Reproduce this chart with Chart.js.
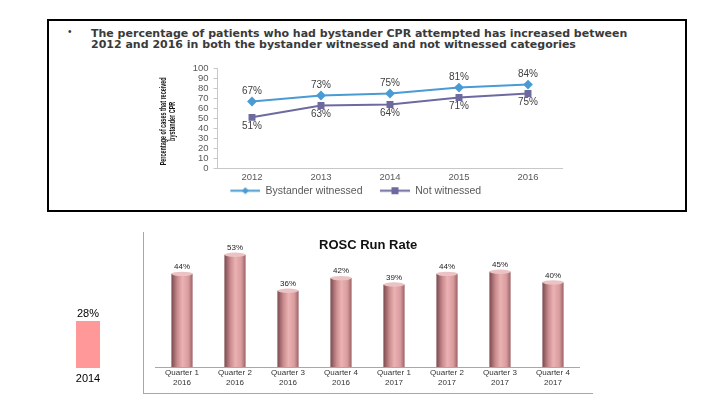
<!DOCTYPE html>
<html>
<head>
<meta charset="utf-8">
<script src="https://cdn.jsdelivr.net/npm/chart.js@4.4.1/dist/chart.umd.min.js"></script>
<style>
  body { margin: 0; width: 720px; height: 405px; background: #fff; position: relative; overflow: hidden; font-family: "Liberation Sans", Arial, sans-serif; }
  #box { position: absolute; left: 47px; top: 19px; width: 636px; height: 189px; border: 2px solid #000; }
  .headline { position: absolute; left: 91px; font-family: "DejaVu Sans", sans-serif; font-weight: 700; font-size: 11px; line-height: 11px; color: #3a3a3a; white-space: nowrap; }
  #bullet { position: absolute; left: 68px; top: 26px; font-size: 10px; color: #333; }
  #roscFrame { position: absolute; left: 143px; top: 232px; width: 449px; height: 161px; border-left: 1px solid #a8a8a8; border-bottom: 1px solid #a8a8a8; }
  #roscTitle { position: absolute; left: 319px; top: 237px; font-weight: 700; font-size: 13px; color: #111; white-space: nowrap; }
  canvas { position: absolute; }
</style>
</head>
<body>
<div id="box"></div>
<div id="bullet">&#8226;</div>
<div class="headline" style="top:27.5px">The percentage of patients who had bystander CPR attempted has increased between</div>
<div class="headline" style="top:38.5px">2012 and 2016 in both the bystander witnessed and not witnessed categories</div>
<canvas id="cprChart" width="436" height="148" style="left:134px;top:58px"></canvas>

<div id="roscFrame"></div>
<canvas id="roscChart" width="449" height="163" style="left:143px;top:232px"></canvas>
<div id="roscTitle">ROSC Run Rate</div>

<canvas id="smallChart" width="48" height="84" style="left:64px;top:305px"></canvas>

<script>
const years = ["2012", "2013", "2014", "2015", "2016"];
const witnessed = [67, 73, 75, 81, 84];
const notWitnessed = [51, 63, 64, 71, 75];
const cprAxisTitle = ["Percentage of cases that received", "bystander CPR"];

const quarters = [
  ["Quarter 1", "2016"], ["Quarter 2", "2016"], ["Quarter 3", "2016"], ["Quarter 4", "2016"],
  ["Quarter 1", "2017"], ["Quarter 2", "2017"], ["Quarter 3", "2017"], ["Quarter 4", "2017"]
];
const roscRate = [44, 53, 36, 42, 39, 44, 45, 40];

const smallYears = ["2014"];
const smallRate = [28];

const BLUE = "#4a9bd4";
const PURPLE = "#6c6a9e";

// draws "NN%" next to every point / bar of the chart
const valueLabels = {
  id: "valueLabels",
  afterDatasetsDraw(chart, args, opts) {
    const ctx = chart.ctx;
    chart.data.datasets.forEach((ds, i) => {
      const meta = chart.getDatasetMeta(i);
      const shift = opts.offsets ? opts.offsets[i] : -8;
      ctx.save();
      ctx.font = opts.font;
      ctx.fillStyle = opts.color;
      ctx.textAlign = "center";
      ctx.textBaseline = "middle";
      meta.data.forEach((el, j) => ctx.fillText(ds.data[j] + "%", el.x, el.y + shift));
      ctx.restore();
    });
  }
};

// squeezed, rotated two-line y title (the original uses a very narrow font)
const narrowYTitle = {
  id: "narrowYTitle",
  afterDraw(chart, args, opts) {
    const ctx = chart.ctx;
    const area = chart.chartArea;
    const cy = (area.top + area.bottom) / 2 + opts.shiftY;
    ctx.save();
    ctx.font = opts.font;
    ctx.fillStyle = opts.color;
    ctx.textAlign = "center";
    ctx.textBaseline = "middle";
    const longest = Math.max(...opts.lines.map(l => ctx.measureText(l).width));
    const squeeze = Math.min(1, opts.maxLength / longest);
    opts.lines.forEach((line, i) => {
      ctx.save();
      ctx.translate(opts.x + i * opts.lineGap, cy);
      ctx.rotate(-Math.PI / 2);
      ctx.scale(squeeze, 1);
      ctx.fillText(line, 0, 0);
      ctx.restore();
    });
    ctx.restore();
  }
};

// light top cap for the cylinder bars
const cylinderCaps = {
  id: "cylinderCaps",
  afterDatasetsDraw(chart) {
    const ctx = chart.ctx;
    chart.getDatasetMeta(0).data.forEach(el => {
      ctx.save();
      ctx.beginPath();
      ctx.ellipse(el.x, el.y, el.width / 2, 2.2, 0, 0, Math.PI * 2);
      ctx.fillStyle = "#ecc3c4";
      ctx.fill();
      ctx.restore();
    });
  }
};

// legend swatch: blank lead-in (acts as gap between items), then line with marker
const SWATCH_W = 45;
const SWATCH_LEAD = 15;
function legendSwatch(color, shape) {
  const c = document.createElement("canvas");
  c.width = SWATCH_W; c.height = 9;
  const g = c.getContext("2d");
  const mid = SWATCH_LEAD + (SWATCH_W - SWATCH_LEAD) / 2;
  g.strokeStyle = color;
  g.lineWidth = 2;
  g.beginPath(); g.moveTo(SWATCH_LEAD, 4.5); g.lineTo(SWATCH_W, 4.5); g.stroke();
  g.fillStyle = color;
  if (shape === "diamond") {
    g.beginPath(); g.moveTo(mid, 1); g.lineTo(mid + 3.5, 4.5); g.lineTo(mid, 8); g.lineTo(mid - 3.5, 4.5); g.closePath(); g.fill();
  } else {
    g.fillRect(mid - 3.5, 1, 7, 7);
  }
  return c;
}

function cylinderFill(context) {
  const chart = context.chart;
  const xs = chart.scales.x;
  if (!xs || !chart.chartArea) return "#d89a9c";
  const cx = xs.getPixelForValue(context.dataIndex);
  const w = xs.width / roscRate.length * 0.4;
  const g = chart.ctx.createLinearGradient(cx - w / 2, 0, cx + w / 2, 0);
  g.addColorStop(0, "#7a4a4e");
  g.addColorStop(0.28, "#c98b8e");
  g.addColorStop(0.52, "#ebb2b3");
  g.addColorStop(0.8, "#d99c9e");
  g.addColorStop(1, "#9a6266");
  return g;
}

const tickFont = { family: "'Liberation Sans', Arial, sans-serif", size: 9.5 };

new Chart(document.getElementById("cprChart"), {
  type: "line",
  data: {
    labels: years,
    datasets: [
      { label: "Bystander witnessed", data: witnessed, borderColor: BLUE, backgroundColor: BLUE, borderWidth: 2,
        pointStyle: "rectRot", pointRadius: 3.5, pointBackgroundColor: BLUE, pointBorderColor: BLUE },
      { label: "Not witnessed", data: notWitnessed, borderColor: PURPLE, backgroundColor: PURPLE, borderWidth: 2,
        pointStyle: "rect", pointRadius: 3.5, pointBackgroundColor: PURPLE, pointBorderColor: PURPLE }
    ]
  },
  options: {
    responsive: false,
    animation: false,
    layout: { padding: { top: 9, right: 7.5, left: 0, bottom: 0 } },
    scales: {
      x: {
        offset: true,
        grid: { display: false, drawTicks: false },
        border: { display: true, color: "#c8c8c8" },
        ticks: { font: tickFont, color: "#595959", padding: 4 },
        afterFit: s => { s.height = 15; }
      },
      y: {
        min: 0, max: 100,
        ticks: { stepSize: 10, autoSkip: false, font: tickFont, color: "#595959", padding: 5 },
        grid: { drawOnChartArea: false, drawTicks: true, tickLength: 4, color: "#c8c8c8" },
        border: { display: true, color: "#c8c8c8" },
        afterFit: s => { s.width = 83.5; }
      }
    },
    plugins: {
      legend: {
        position: "bottom",
        labels: {
          usePointStyle: true,
          pointStyleWidth: SWATCH_W,
          padding: 2.5,
          font: { family: "'Liberation Sans', Arial, sans-serif", size: 10.5 },
          color: "#595959",
          generateLabels: chart => chart.data.datasets.map((ds, i) => ({
            text: ds.label,
            pointStyle: legendSwatch(ds.borderColor, i === 0 ? "diamond" : "square"),
            fillStyle: ds.borderColor,
            strokeStyle: ds.borderColor,
            lineWidth: 0,
            fontColor: "#595959",
            datasetIndex: i
          }))
        }
      },
      tooltip: { enabled: false },
      valueLabels: { font: "10px 'Liberation Sans', Arial, sans-serif", color: "#404040", offsets: [-10, 9] },
      narrowYTitle: {
        lines: cprAxisTitle, x: 29.5, lineGap: 9, shiftY: 3, maxLength: 88,
        font: "bold 8.5px 'Liberation Sans', Arial, sans-serif", color: "#111"
      }
    }
  },
  plugins: [valueLabels, narrowYTitle]
});

new Chart(document.getElementById("roscChart"), {
  type: "bar",
  data: {
    labels: quarters,
    datasets: [{ label: "ROSC Run Rate", data: roscRate, backgroundColor: cylinderFill, borderWidth: 0,
      categoryPercentage: 1, barPercentage: 0.4 }]
  },
  options: {
    responsive: false,
    animation: false,
    layout: { padding: { top: 8, left: 12.5, right: 12.5, bottom: 0 } },
    scales: {
      x: {
        grid: { display: false, drawTicks: false },
        border: { display: true, color: "#a8a8a8" },
        ticks: { font: { family: "'Liberation Sans', Arial, sans-serif", size: 8, lineHeight: 1.25 }, color: "#333", padding: 1, maxRotation: 0 },
        afterFit: s => { s.height = 28; }
      },
      y: { display: false, min: 0, max: 60 }
    },
    plugins: {
      legend: { display: false },
      tooltip: { enabled: false },
      valueLabels: { font: "8px 'Liberation Sans', Arial, sans-serif", color: "#222", offsets: [-7] }
    }
  },
  plugins: [valueLabels, cylinderCaps]
});

new Chart(document.getElementById("smallChart"), {
  type: "bar",
  data: {
    labels: smallYears,
    datasets: [{ data: smallRate, backgroundColor: "#ff9999", borderWidth: 0, categoryPercentage: 1, barPercentage: 0.5 }]
  },
  options: {
    responsive: false,
    animation: false,
    layout: { padding: { top: 12.6, left: 0, right: 0, bottom: 0 } },
    scales: {
      x: {
        grid: { display: false, drawTicks: false },
        border: { display: false },
        ticks: { font: { family: "'Liberation Sans', Arial, sans-serif", size: 11 }, color: "#000", padding: 4 },
        afterFit: s => { s.height = 21; }
      },
      y: { display: false, min: 0, max: 30 }
    },
    plugins: {
      legend: { display: false },
      tooltip: { enabled: false },
      valueLabels: { font: "11px 'Liberation Sans', Arial, sans-serif", color: "#000", offsets: [-7] }
    }
  },
  plugins: [valueLabels]
});
</script>
</body>
</html>
